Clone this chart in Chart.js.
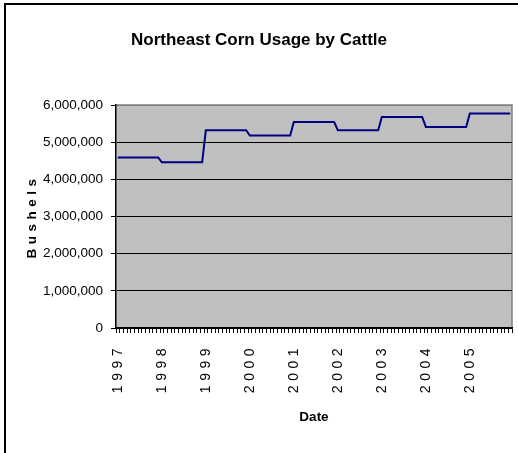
<!DOCTYPE html>
<html>
<head>
<meta charset="utf-8">
<title>Northeast Corn Usage by Cattle</title>
<script src="https://cdn.jsdelivr.net/npm/chart.js@4/dist/chart.umd.min.js"></script>
<style>
  body { margin: 0; background: #fff; }
  canvas { display: block; }
</style>
</head>
<body>
<canvas id="myChart" width="518" height="453"></canvas>
<script>
const years = ['1997', '1998', '1999', '2000', '2001', '2002', '2003', '2004', '2005'];
const monthNames = ['01', '02', '03', '04', '05', '06', '07', '08', '09', '10', '11', '12'];

// bushels per month, one row per year
const bushels = [
  4590000, 4590000, 4590000, 4590000, 4590000, 4590000, 4590000, 4590000, 4590000, 4590000, 4590000, 4590000,
  4460000, 4460000, 4460000, 4460000, 4460000, 4460000, 4460000, 4460000, 4460000, 4460000, 4460000, 4460000,
  5320000, 5320000, 5320000, 5320000, 5320000, 5320000, 5320000, 5320000, 5320000, 5320000, 5320000, 5320000,
  5180000, 5180000, 5180000, 5180000, 5180000, 5180000, 5180000, 5180000, 5180000, 5180000, 5180000, 5180000,
  5540000, 5540000, 5540000, 5540000, 5540000, 5540000, 5540000, 5540000, 5540000, 5540000, 5540000, 5540000,
  5320000, 5320000, 5320000, 5320000, 5320000, 5320000, 5320000, 5320000, 5320000, 5320000, 5320000, 5320000,
  5680000, 5680000, 5680000, 5680000, 5680000, 5680000, 5680000, 5680000, 5680000, 5680000, 5680000, 5680000,
  5410000, 5410000, 5410000, 5410000, 5410000, 5410000, 5410000, 5410000, 5410000, 5410000, 5410000, 5410000,
  5770000, 5770000, 5770000, 5770000, 5770000, 5770000, 5770000, 5770000, 5770000, 5770000, 5770000, 5770000
];

const yTicks = [0, 1000000, 2000000, 3000000, 4000000, 5000000, 6000000];

const fontName = "'Liberation Sans', Arial, sans-serif";

// one category per month, "1997-01" ...
let months = [];
years.forEach(function(y){
  monthNames.forEach(function(m){
    months.push(y + '-' + m);
  });
});

//------------------plugins---------------------

// grey plot area, grey top/right edge and the outer frame
const plotBack = {
  id: 'plotBack',
  beforeDraw(chart){
    let ctx = chart.ctx;
    let a = chart.chartArea;
    ctx.save();
    ctx.fillStyle = '#c0c0c0';
    ctx.fillRect(a.left, a.top, a.right - a.left, a.bottom - a.top);
    ctx.strokeStyle = '#808080';
    ctx.lineWidth = 1.5;
    ctx.beginPath();
    ctx.moveTo(a.left, a.top);
    ctx.lineTo(a.right, a.top);
    ctx.lineTo(a.right, a.bottom);
    ctx.stroke();
    ctx.fillStyle = '#000';
    ctx.fillRect(4, 3, 514, 2);
    ctx.fillRect(4, 3, 2, 450);
    ctx.restore();
  }
};

// spaced-out lettering for the date labels and the "Bushels" title (drawn after datasets)
const spacedText = {
  id: 'spacedText',
  afterDatasetsDraw(chart){
    chart.ctx.letterSpacing = '4.5px';
  },
  afterDraw(chart){
    chart.ctx.letterSpacing = '0px';
  }
};

//------------------chart---------------------

function createChart(){
  let myChart = document.getElementById('myChart').getContext('2d');

  new Chart(myChart, {
    type: 'line',
    data: {
      labels: months,
      datasets: [{
        label: 'Bushels',
        data: bushels,
        borderColor: '#000080',
        borderWidth: 2,
        pointRadius: 0,
        tension: 0,
        fill: false
      }]
    },
    options: {
      responsive: false,
      animation: false,
      layout: { padding: { left: 6, right: 6, top: 0, bottom: 0 } },
      plugins: {
        legend: { display: false },
        tooltip: { enabled: false },
        title: {
          display: true,
          text: 'Northeast Corn Usage by Cattle',
          color: '#000',
          font: { family: fontName, size: 17, weight: 'bold' },
          padding: { top: 30, bottom: 54.6 }
        }
      },
      scales: {
        x: {
          offset: true,
          afterFit(scale){
            scale.height = 125;
            scale.paddingLeft = 0;
            scale.paddingRight = 0;
          },
          grid: {
            offset: true,
            drawOnChartArea: false,
            drawTicks: true,
            tickLength: 5,
            color: '#000'
          },
          border: { color: '#000', width: 1.5 },
          ticks: {
            z: 1,
            autoSkip: false,
            minRotation: 90,
            maxRotation: 90,
            padding: 11,
            color: '#000',
            font: { family: fontName, size: 14 },
            callback: function(val, i){
              let lab = months[i];
              return lab.slice(5) === '01' ? lab.slice(0, 4) : '';
            }
          },
          title: {
            display: true,
            text: 'Date',
            color: '#000',
            font: { family: fontName, size: 13.5, weight: 'bold' },
            padding: { top: 0, bottom: 28 }
          }
        },
        y: {
          min: 0,
          max: 6000000,
          afterFit(scale){
            scale.width = 110;
            scale.paddingTop = 0;
            scale.paddingBottom = 0;
          },
          afterBuildTicks(scale){
            scale.ticks = yTicks.map(function(v){ return { value: v }; });
          },
          grid: {
            z: 1,
            color: function(c){
              return c.tick && c.tick.value === 6000000 ? '#808080' : '#000';
            },
            tickLength: 5,
            tickColor: '#000'
          },
          border: { z: 1, color: '#000', width: 1.5 },
          ticks: {
            padding: 8,
            color: '#000',
            font: { family: fontName, size: 13.5 },
            callback: function(v){ return v.toLocaleString('en-US'); }
          },
          title: {
            display: true,
            text: 'Bushels',
            color: '#000',
            font: { family: fontName, size: 13.5, weight: 'bold' },
            padding: { top: 18, bottom: 0 }
          }
        }
      }
    },
    plugins: [plotBack, spacedText]
  });
}

createChart();
</script>
</body>
</html>
